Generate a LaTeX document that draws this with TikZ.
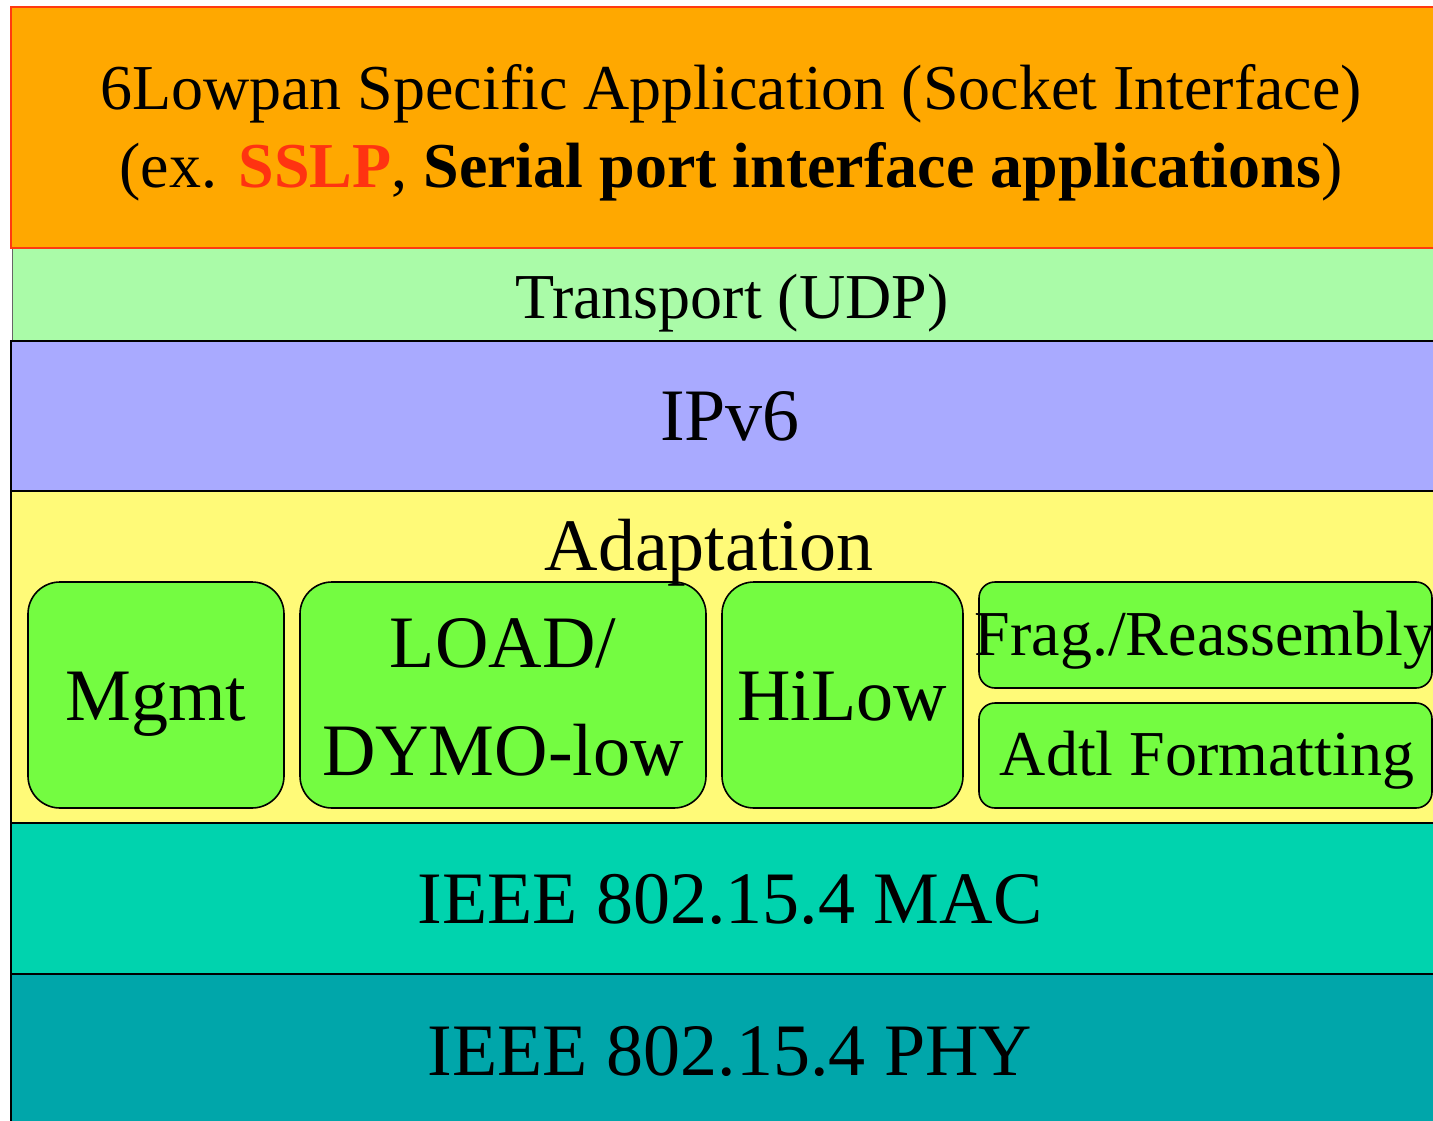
\documentclass[tikz,border=0pt]{standalone}
\usepackage{fontspec}
\setmainfont{Liberation Serif}
\definecolor{appc}{HTML}{FFA800}
\definecolor{appborder}{HTML}{FF3A10}
\definecolor{sslpc}{HTML}{FF3311}
\definecolor{transc}{HTML}{AAFBA8}
\definecolor{ipc}{HTML}{A9AAFF}
\definecolor{adaptc}{HTML}{FFFA78}
\definecolor{boxc}{HTML}{74FC41}
\definecolor{macc}{HTML}{00D3AE}
\definecolor{phyc}{HTML}{00A6AA}
\tikzset{
  layer/.style={draw=black, line width=2pt},
  subbox/.style={draw=black, line width=1.6pt, fill=boxc},
  bigtxt/.style={inner sep=0pt, anchor=base, font=\fontsize{74}{82}\selectfont},
  midtxt/.style={inner sep=0pt, anchor=base, font=\fontsize{64}{72}\selectfont},
}
\begin{document}
\begin{tikzpicture}[x=1pt,y=-1pt]
\useasboundingbox (0,0) rectangle (1433,1121);
\clip (0,0) rectangle (1433,1121);
% layers
\path[layer, fill=phyc] (11,974) rectangle (1460,1150);
\path[layer, fill=macc] (11,823) rectangle (1460,974);
\path[layer, fill=adaptc] (11,491) rectangle (1460,823);
\path[layer, fill=ipc] (11,341) rectangle (1460,491);
\path[fill=transc, draw=black!60, line width=1pt] (12,248) rectangle (1460,341);
\draw[black, line width=2pt] (11,341) -- (1460,341);
\path[fill=appc, draw=appborder, line width=2pt] (11,7) rectangle (1460,248);
% sub boxes
\path[subbox, rounded corners=32pt] (28,582) rectangle (284,808);
\path[subbox, rounded corners=32pt] (300,582) rectangle (706,808);
\path[subbox, rounded corners=32pt] (722,582) rectangle (963,808);
\path[subbox, rounded corners=16pt] (979,582) rectangle (1432,688);
\path[subbox, rounded corners=16pt] (979,703) rectangle (1432,808);
% texts
\node[midtxt] (app1) at (731,110) {6Lowpan Specific Application (Socket Interface)};
\node[midtxt] (app2) at (731,187) {(ex. \textcolor{sslpc}{\textbf{SSLP}}, \textbf{Serial port interface applications})};
\node[midtxt] (trans) at (732,318) {Transport (UDP)};
\node[bigtxt] (ipv6) at (730,440) {IPv6};
\node[bigtxt] (adapt) at (709,570) {Adaptation};
\node[bigtxt] (mgmt) at (156,720) {Mgmt};
\node[bigtxt] (load) at (503,667) {LOAD/};
\node[bigtxt] (dymo) at (503,775) {DYMO-low};
\node[bigtxt] (hilow) at (842,720) {HiLow};
\node[midtxt] (frag) at (1205,655) {Frag./Reassembly};
\node[midtxt] (adtl) at (1207,775) {Adtl Formatting};
\node[bigtxt] (mac) at (730,923) {IEEE 802.15.4 MAC};
\node[bigtxt] (phy) at (730,1075) {IEEE 802.15.4 PHY};
\end{tikzpicture}
\end{document}
